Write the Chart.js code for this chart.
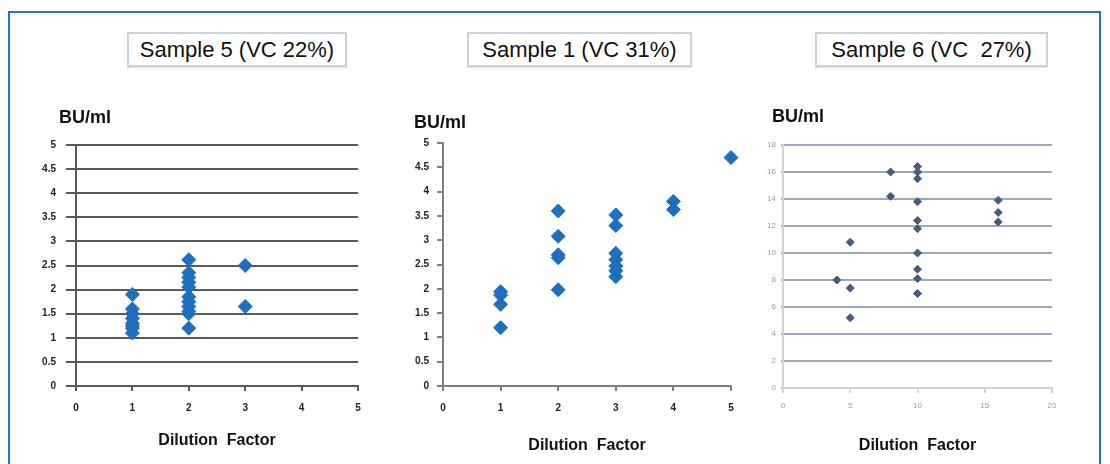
<!DOCTYPE html>
<html>
<head>
<meta charset="utf-8">
<script src="https://cdn.jsdelivr.net/npm/chart.js@4.4.1/dist/chart.umd.min.js"></script>
<style>
  body { margin: 0; background: #fff; width: 1110px; height: 464px; overflow: hidden; position: relative; font-family: Arial, "Liberation Sans", sans-serif; }
  #marco { position: absolute; left: 8px; top: 11px; width: 1093px; height: 480px; border: 2px solid #2a72c0; box-sizing: border-box; }
  .caja { position: absolute; top: 32px; height: 35px; box-sizing: border-box; border: 2px solid #c9d3e0; box-shadow: 0 1px 1px #dde3ec; background: #fff;
          font-size: 22px; line-height: 31px; text-align: center; white-space: pre; color: #111; }
  canvas { position: absolute; }
</style>
</head>
<body>
<div id="marco"></div>
<div class="caja" style="left:127px;width:220px">Sample 5 (VC 22%)</div>
<div class="caja" style="left:467px;width:225px">Sample 1 (VC 31%)</div>
<div class="caja" style="left:815px;width:233px">Sample 6 (VC  27%)</div>
<canvas id="graf1" width="365" height="369" style="left:10px;top:95px"></canvas>
<canvas id="graf2" width="370" height="369" style="left:380px;top:95px"></canvas>
<canvas id="graf3" width="350" height="369" style="left:750px;top:95px"></canvas>
<script>
// datos
const muestra5X = [1, 1, 1, 1, 1, 1, 1, 1, 2, 2, 2, 2, 2, 2, 2, 2, 2, 2, 2, 3, 3];
const muestra5Y = [1.9, 1.6, 1.5, 1.4, 1.3, 1.25, 1.2, 1.1, 2.62, 2.35, 2.25, 2.15, 2.05, 1.85, 1.75, 1.65, 1.55, 1.5, 1.2, 2.5, 1.65];

const muestra1X = [1, 1, 1, 1, 2, 2, 2, 2, 2, 3, 3, 3, 3, 3, 3, 3, 4, 4, 5];
const muestra1Y = [1.94, 1.87, 1.68, 1.2, 3.6, 3.08, 2.7, 2.64, 1.98, 3.52, 3.3, 2.73, 2.6, 2.47, 2.37, 2.25, 3.8, 3.63, 4.7];

const muestra6X = [4, 5, 5, 5, 8, 8, 10, 10, 10, 10, 10, 10, 10, 10, 10, 10, 16, 16, 16];
const muestra6Y = [8, 10.8, 7.4, 5.2, 16, 14.2, 16.4, 16, 15.5, 13.8, 12.4, 11.8, 10, 8.8, 8.1, 7, 13.9, 13, 12.3];

const titulos = ["Sample 5 (VC 22%)", "Sample 1 (VC 31%)", "Sample 6 (VC  27%)"];
const etiquetaEjeY = "BU/ml";
const etiquetaEjeX = "Dilution  Factor";

// texto "BU/ml" arriba del eje Y
const etiquetaY = {
  id: "etiquetaY",
  afterDraw(chart, args, opts) {
    const { ctx, chartArea } = chart;
    ctx.save();
    ctx.font = "bold 18px Arial, 'Liberation Sans'";
    ctx.fillStyle = "#111";
    ctx.textBaseline = "middle";
    ctx.fillText(etiquetaEjeY, chartArea.left + opts.dx, chartArea.top + opts.dy);
    ctx.restore();
  },
};

const crearPanel = (id, xs, ys, cfg) => {
  const puntos = xs.map((x, i) => ({ x: x, y: ys[i] }));
  const fuenteTicks = { family: "Arial, 'Liberation Sans'", size: cfg.tamTick, weight: cfg.pesoTick };
  return new Chart(document.getElementById(id), {
    type: "scatter",
    data: {
      datasets: [
        {
          data: puntos,
          pointStyle: "rectRot",
          pointRadius: cfg.radio,
          backgroundColor: cfg.color,
          borderColor: cfg.color,
          borderWidth: 1,
          clip: false,
        },
      ],
    },
    options: {
      responsive: false,
      animation: false,
      layout: { padding: { top: cfg.arriba, right: cfg.derecha, left: 0, bottom: 0 } },
      plugins: {
        legend: { display: false },
        tooltip: { enabled: false },
        etiquetaY: { dx: cfg.dx, dy: cfg.dy },
      },
      scales: {
        x: {
          type: "linear",
          min: 0,
          max: cfg.maxX,
          ticks: { stepSize: cfg.pasoX, font: fuenteTicks, color: cfg.colorTick, padding: cfg.padX },
          grid: { drawOnChartArea: false, tickLength: 5, color: cfg.colorEje, lineWidth: 2 },
          border: { color: cfg.colorEje, width: 2 },
          title: {
            display: true,
            text: etiquetaEjeX,
            color: "#111",
            font: { family: "Arial, 'Liberation Sans'", size: 16, weight: "bold" },
            padding: { top: 0, bottom: cfg.padTitulo },
          },
          afterFit: (eje) => { eje.height = cfg.altoX; },
        },
        y: {
          min: 0,
          max: cfg.maxY,
          ticks: {
            stepSize: cfg.pasoY,
            font: fuenteTicks,
            color: cfg.colorTick,
            padding: cfg.padY,
            callback: (valor) => String(valor),
          },
          grid: {
            drawOnChartArea: cfg.lineas,
            color: cfg.colorGrid,
            lineWidth: 2,
            tickLength: cfg.largoTickY,
          },
          border: { color: cfg.colorEjeY, width: 2 },
          afterFit: (eje) => { eje.width = cfg.anchoY; },
        },
      },
    },
    plugins: [etiquetaY],
  });
};

crearPanel("graf1", muestra5X, muestra5Y, {
  maxX: 5, pasoX: 1, maxY: 5, pasoY: 0.5,
  radio: 7, color: "#1f6fbf",
  arriba: 50, derecha: 17, anchoY: 66, altoX: 78,
  padX: 11, padY: 10, largoTickY: 10, padTitulo: 14,
  tamTick: 10, pesoTick: "bold", colorTick: "#222",
  lineas: true, colorGrid: "#5a5a5a", colorEje: "#5a5a5a", colorEjeY: "#5a5a5a",
  dx: -17, dy: -27,
});

crearPanel("graf2", muestra1X, muestra1Y, {
  maxX: 5, pasoX: 1, maxY: 5, pasoY: 0.5,
  radio: 7, color: "#1f6fbf",
  arriba: 48, derecha: 19, anchoY: 63, altoX: 78,
  padX: 11, padY: 8, largoTickY: 6, padTitulo: 9,
  tamTick: 10, pesoTick: "bold", colorTick: "#222",
  lineas: false, colorGrid: "#808080", colorEje: "#808080", colorEjeY: "#808080",
  dx: -29, dy: -20,
});

crearPanel("graf3", muestra6X, muestra6Y, {
  maxX: 20, pasoX: 5, maxY: 18, pasoY: 2,
  radio: 4, color: "#4a5b7a",
  arriba: 50, derecha: 48, anchoY: 33, altoX: 76,
  padX: 8, padY: 5, largoTickY: 2, padTitulo: 9,
  tamTick: 8, pesoTick: "normal", colorTick: "#9a9a9a",
  lineas: true, colorGrid: "#9ba8c0", colorEje: "#cdd4de", colorEjeY: "#cdd4de",
  dx: -11, dy: -28,
});
</script>
</body>
</html>
